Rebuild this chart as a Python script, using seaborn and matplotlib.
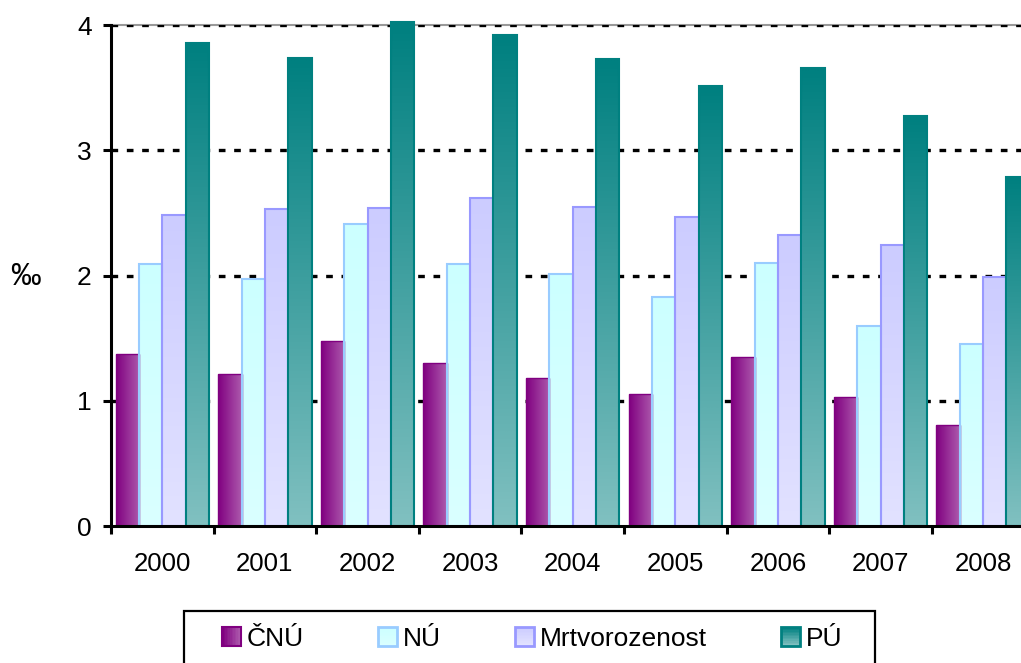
import numpy as np
import pandas as pd
import matplotlib
matplotlib.use("Agg")
import matplotlib.pyplot as plt
import seaborn as sns
from matplotlib.colors import to_rgb
from matplotlib.patches import Rectangle, Patch
from matplotlib.legend_handler import HandlerBase

# ---- data ----
years = ["2000", "2001", "2002", "2003", "2004", "2005", "2006", "2007", "2008"]
series = ["ČNÚ", "NÚ", "Mrtvorozenost", "PÚ"]
cnu = [1.37, 1.21, 1.48, 1.30, 1.18, 1.05, 1.35, 1.03, 0.81]
nu = [2.09, 1.97, 2.41, 2.09, 2.01, 1.83, 2.10, 1.60, 1.45]
mrt = [2.48, 2.53, 2.54, 2.62, 2.55, 2.47, 2.32, 2.24, 1.99]
pu = [3.86, 3.74, 4.02, 3.92, 3.73, 3.51, 3.66, 3.27, 2.79]
yticks = [0, 1, 2, 3, 4]

values = {"ČNÚ": cnu, "NÚ": nu, "Mrtvorozenost": mrt, "PÚ": pu}
df = pd.DataFrame(
    [(y, s, values[s][i]) for s in series for i, y in enumerate(years)],
    columns=["year", "series", "value"],
)

# style: (direction, color_start, color_end, edgecolor, edge lw)
styles = {
    "ČNÚ": ("h", "#800080", "#AD5AAD", "#800080", 1.0),
    "NÚ": ("v", "#CCFFFF", "#DAFFFF", "#99CCFF", 1.5),
    "Mrtvorozenost": ("v", "#CCCCFF", "#E2E2FF", "#9999FF", 1.5),
    "PÚ": ("v", "#008080", "#80C0C0", "#008080", 1.5),
}
mid_colors = [styles[s][1] for s in series]

sns.set_theme(style="white")
plt.rcParams["font.family"] = ["Liberation Sans", "DejaVu Sans"]
plt.rcParams.update({"text.color": "black", "axes.labelcolor": "black",
                     "xtick.color": "black", "ytick.color": "black"})

fig = plt.figure(figsize=(10.21, 6.63), dpi=100)
ax = fig.add_axes([111 / 1021, 137 / 663, 923.4 / 1021, 501 / 663])

sns.barplot(data=df, x="year", y="value", hue="series", hue_order=series,
            order=years, palette=mid_colors, width=0.91, saturation=1,
            legend=False, ax=ax)


def grad_array(direction, c0, c1, n=64):
    c0 = np.array(to_rgb(c0))
    c1 = np.array(to_rgb(c1))
    t = np.linspace(0, 1, n)
    cols = c0[None, :] * (1 - t[:, None]) + c1[None, :] * t[:, None]
    if direction == "h":
        return cols[None, :, :]
    return cols[:, None, :]  # row 0 on top with origin='upper'


for cont, s in zip(ax.containers, series):
    d, c0, c1, ec, lw = styles[s]
    arr = grad_array(d, c0, c1)
    for p in cont.patches:
        x, y0 = p.get_x(), p.get_y()
        w, h = p.get_width(), p.get_height()
        im = ax.imshow(arr, extent=(x, x + w, y0, y0 + h), aspect="auto",
                       origin="upper", zorder=2.5, interpolation="bilinear")
        im.set_clip_path(p)
        p.set_facecolor("none")
        p.set_edgecolor(ec)
        p.set_linewidth(lw)
        p.set_zorder(3)
        p.set_clip_on(False)

ax.set_xlim(-0.5, 8.5)
ax.set_ylim(0, 4)
ax.set_yticks(yticks)
ax.set_yticklabels([str(v) for v in yticks], fontsize=19, color="black")
ax.set_xticks(range(len(years)))
ax.set_xticklabels(years, fontsize=18.5, color="black")
ax.set_xticks(np.arange(-0.5, len(years) + 0.5, 1), minor=True)
ax.tick_params(axis="x", which="major", length=0, pad=19, colors="black")
ax.tick_params(axis="x", which="minor", length=6, width=2.2, direction="out",
               bottom=True, color="black")
ax.tick_params(axis="y", which="major", length=6, width=2.2, direction="out",
               left=True, pad=8, colors="black")
ax.set_xlabel("")
ax.set_ylabel("‰", rotation=0, fontsize=22, ha="center", va="center",
              color="black")
ax.yaxis.set_label_coords((25 - 111) / 923.4, 0.5 - 1.5 / 501)

for yv in yticks[1:]:
    ax.axhline(yv, color="black", lw=2.4, linestyle=(0, (2, 2.6)), zorder=1)

for side in ["left", "bottom"]:
    ax.spines[side].set_color("black")
    ax.spines[side].set_linewidth(2.2)
    ax.spines[side].set_zorder(4)
ax.spines["top"].set_color("#999999")
ax.spines["top"].set_linewidth(1.5)
ax.spines["top"].set_zorder(0.5)
ax.spines["right"].set_visible(False)


class HandlerGradient(HandlerBase):
    def __init__(self, style, **kw):
        super().__init__(**kw)
        self.style = style

    def create_artists(self, legend, orig_handle, xdescent, ydescent, width,
                       height, fontsize, trans):
        d, c0, c1, ec, lw = self.style
        n = 12
        arts = []
        c0a, c1a = np.array(to_rgb(c0)), np.array(to_rgb(c1))
        for i in range(n):
            t = i / (n - 1)
            col = c0a * (1 - t) + c1a * t
            if d == "h":
                r = Rectangle((-xdescent + width * i / n, -ydescent), width / n + 0.3,
                              height, facecolor=col, edgecolor="none", transform=trans)
            else:
                r = Rectangle((-xdescent, -ydescent + height * (n - 1 - i) / n), width,
                              height / n + 0.3, facecolor=col, edgecolor="none",
                              transform=trans)
            arts.append(r)
        arts.append(Rectangle((-xdescent, -ydescent), width, height, facecolor="none",
                              edgecolor=ec, lw=lw + 0.5, transform=trans))
        return arts


handles = [Patch(label=s) for s in series]
hmap = {h: HandlerGradient(styles[s]) for h, s in zip(handles, series)}
leg = fig.legend(handles=handles, labels=series, handler_map=hmap, ncol=4,
                 loc="center left", mode="expand",
                 bbox_to_anchor=(222 / 1021, 1 - 639 / 663, (842 - 222) / 1021, 0),
                 fontsize=19, frameon=False, labelcolor="black",
                 handlelength=0.72, handleheight=0.72, handletextpad=0.2,
                 borderpad=0, borderaxespad=0)

# legend box
fig.patches.append(Rectangle((184 / 1021, -0.05), 691 / 1021, (663 - 611) / 663 + 0.05,
                             transform=fig.transFigure, fill=False,
                             edgecolor="black", linewidth=1.6))

fig.savefig("out.png", dpi=100)
